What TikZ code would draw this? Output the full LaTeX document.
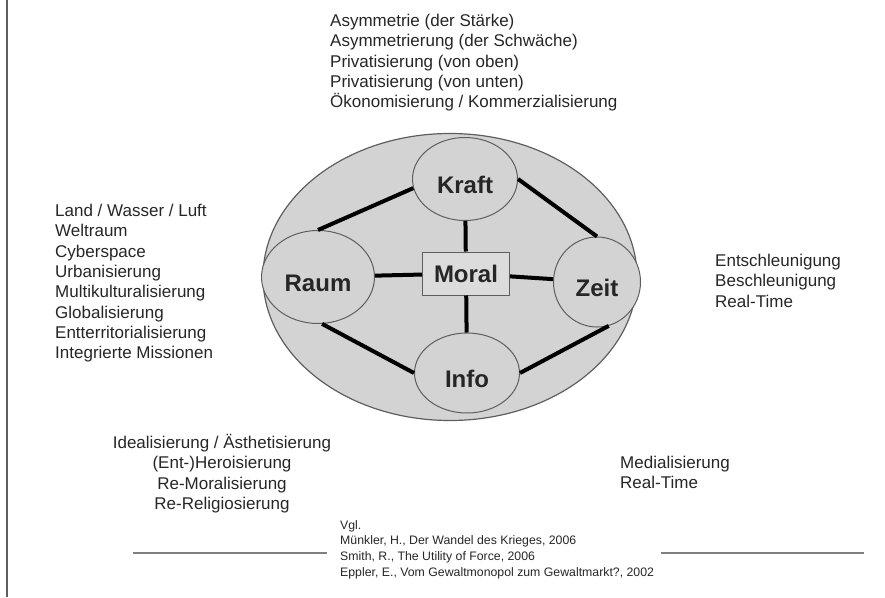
\documentclass[tikz,border=0pt]{standalone}
\usepackage{fontspec}
\setmainfont{Liberation Sans}
\usetikzlibrary{shapes.geometric}
\definecolor{fillgray}{HTML}{D3D3D3}
\definecolor{boxgray}{HTML}{DCDCDC}
\definecolor{rimgray}{HTML}{5E5E5E}
\definecolor{inkgray}{HTML}{262626}
\tikzset{
  every node/.style={inner sep=0pt},
}
\tikzstyle{pole}=[ellipse,draw=rimgray,fill=fillgray,line width=1pt,font=\fontsize{24}{28}\selectfont\bfseries,text=inkgray,text height=28pt,text depth=0pt]
\tikzstyle{link}=[line width=4pt,black]
\tikzstyle{list}=[anchor=north west,align=left,font=\fontsize{17}{20.3}\selectfont,text=inkgray]
\tikzstyle{rule}=[line width=2.5pt,gray]

\begin{document}
\begin{tikzpicture}[x=1pt,y=-1pt]
  \useasboundingbox (0,0) rectangle (885,597);
  \coordinate (edgeTop) at (7,0);
  \coordinate (edgeBot) at (7,597);
  \draw[line width=1.5pt,rimgray] (edgeTop)--(edgeBot);

  \node[ellipse,draw=rimgray,fill=fillgray,line width=1.2pt,minimum width=374pt,minimum height=287pt] (rahmen) at (450,277) {};
  \node[pole,minimum width=105pt,minimum height=83pt] (kraft) at (465,179) {Kraft};
  \node[pole,minimum width=113pt,minimum height=93pt] (raum) at (318,277) {Raum};
  \node[pole,minimum width=87pt,minimum height=90pt] (zeit) at (597,282) {Zeit};
  \node[pole,minimum width=105pt,minimum height=80pt] (info) at (467,373) {Info};
  \node[draw=rimgray,fill=boxgray,line width=1pt,minimum width=87pt,minimum height=43pt,font=\fontsize{24}{28}\selectfont\bfseries,text=inkgray] (moral) at (466,273.5) {Moral};

  \draw[link] (kraft.190) -- (raum.north);
  \draw[link] (kraft.east) -- (zeit.north);
  \draw[link] (raum.-85) -- (info.west);
  \draw[link] (zeit.-75) -- (info.east);
  \draw[link] (moral) -- (kraft);
  \draw[link] (moral) -- (info);
  \draw[link] (moral) -- (raum);
  \draw[link] (moral) -- (zeit);

  \node[list] (kraftlist) at (330,14) {Asymmetrie (der Stärke)\\Asymmetrierung (der Schwäche)\\Privatisierung (von oben)\\Privatisierung (von unten)\\Ökonomisierung / Kommerzialisierung};
  \node[list] (raumlist) at (55,204) {Land / Wasser / Luft\\Weltraum\\Cyberspace\\Urbanisierung\\Multikulturalisierung\\Globalisierung\\Entterritorialisierung\\Integrierte Missionen};
  \node[list] (zeitlist) at (715,254) {Entschleunigung\\Beschleunigung\\Real-Time};
  \node[list,anchor=north,align=center] (morallist) at (222,434) {Idealisierung / Ästhetisierung\\(Ent-)Heroisierung\\Re-Moralisierung\\Re-Religiosierung};
  \node[list] (infolist) at (620,456) {Medialisierung\\Real-Time};

  \node[anchor=north west,align=left,font=\fontsize{12.3}{15.8}\selectfont,text=inkgray] (quellen) at (340,520) {Vgl.\\Münkler, H., Der Wandel des Krieges, 2006\\Smith, R., The Utility of Force, 2006\\Eppler, E., Vom Gewaltmonopol zum Gewaltmarkt?, 2002};
  \coordinate (ruleLa) at (133,553);
  \coordinate (ruleLb) at (327,553);
  \coordinate (ruleRa) at (661,553);
  \coordinate (ruleRb) at (864,553);
  \draw[rule] (ruleLa) -- (ruleLb);
  \draw[rule] (ruleRa) -- (ruleRb);
\end{tikzpicture}
\end{document}
